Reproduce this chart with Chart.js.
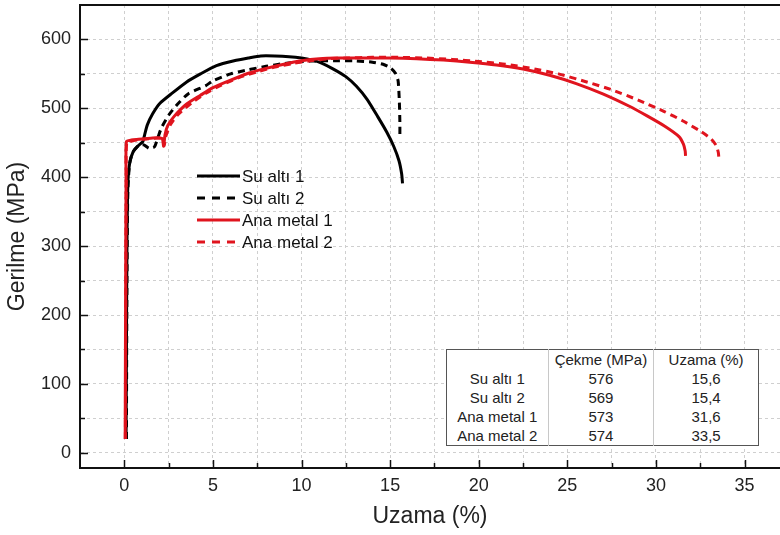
<!DOCTYPE html>
<html>
<head>
<meta charset="utf-8">
<script src="https://cdn.jsdelivr.net/npm/chart.js@4/dist/chart.umd.min.js"></script>
<style>
    body { margin: 0; background: #fff; }
    #wrap { position: relative; width: 780px; height: 535px; }
    #resultTable {
        position: absolute; left: 446px; top: 349px; width: 313px;
        border-collapse: collapse; background: #fff;
        border: 1.5px solid #555;
        font: 15px "Liberation Sans", Arial, sans-serif; color: #222;
    }
    #resultTable td { height: 19px; padding: 0; text-align: center; line-height: 19px; }
    #resultTable td + td { border-left: 1px solid #c8c8c8; }
</style>
</head>
<body>
<div id="wrap">
    <canvas id="tensileChart" width="780" height="535"></canvas>
    <table id="resultTable"></table>
</div>
<script>
// curves: x = Uzama (%), y = Gerilme (MPa)
const suAlti1X = [0.1, 0.12, 0.15, 0.2, 0.3, 0.5, 0.8, 1.05, 1.15, 1.3, 1.6, 2.0, 2.7, 3.5, 4.3, 5.2, 6.2, 7.0, 7.7, 8.5, 9.3, 10.0, 10.6, 11.1, 11.8, 12.5, 13.1, 13.7, 14.3, 14.8, 15.2, 15.5, 15.65, 15.7];
const suAlti1Y = [20, 150, 300, 390, 420, 437, 446, 452, 462, 476, 492, 507, 522, 538, 550, 562, 569, 573, 576, 576, 575, 573, 570, 566, 557, 546, 532, 513, 488, 466, 445, 424, 405, 391];

const suAlti2X = [0.12, 0.15, 0.2, 0.3, 0.5, 0.8, 1.1, 1.4, 1.7, 1.9, 2.1, 2.5, 3.0, 3.6, 4.6, 5.0, 6.0, 7.0, 8.0, 9.0, 10.0, 11.0, 12.0, 13.0, 14.0, 14.6, 15.0, 15.3, 15.45, 15.52, 15.55, 15.55];
const suAlti2Y = [20, 250, 380, 420, 437, 446, 447, 442, 444, 458, 472, 490, 506, 521, 533, 540, 550, 556, 561, 565, 568, 569, 569, 569, 567, 564, 559, 551, 540, 510, 480, 462];

const anaMetal1X = [0.05, 0.07, 0.1, 0.12, 0.4, 0.8, 1.2, 1.6, 2.0, 2.15, 2.22, 2.3, 2.45, 2.8, 3.5, 4.3, 5.0, 6.0, 7.0, 8.0, 9.0, 10.0, 11.0, 12.0, 13.5, 15.0, 16.5, 18.0, 19.5, 21.0, 22.5, 24.0, 25.5, 27.0, 28.5, 29.5, 30.5, 31.3, 31.55, 31.65, 31.67];
const anaMetal1Y = [20, 200, 400, 452, 454, 455, 456, 457, 457, 456, 445, 462, 475, 488, 506, 519, 530, 541, 551, 558, 564, 569, 572, 573, 573, 573, 572, 570, 567, 563, 557, 548, 536, 521, 503, 489, 474, 459, 448, 438, 431];

const anaMetal2X = [0.06, 0.08, 0.11, 0.14, 0.5, 1.0, 1.5, 2.0, 2.15, 2.25, 2.35, 2.6, 3.0, 3.8, 4.6, 5.5, 6.5, 7.5, 8.5, 9.5, 10.5, 11.5, 12.5, 14.0, 15.5, 17.0, 18.5, 20.0, 21.5, 23.0, 24.5, 26.0, 27.5, 29.0, 30.5, 31.5, 32.5, 33.1, 33.4, 33.52, 33.55];
const anaMetal2Y = [20, 200, 400, 450, 453, 455, 456, 457, 455, 446, 460, 476, 490, 508, 522, 534, 545, 553, 560, 565, 569, 572, 573, 574, 574, 573, 571, 568, 564, 558, 550, 539, 527, 512, 495, 482, 467, 456, 446, 436, 428];

const seriesNames = ["Su altı 1", "Su altı 2", "Ana metal 1", "Ana metal 2"];
const xTicks = [0, 2.5, 5, 7.5, 10, 12.5, 15, 17.5, 20, 22.5, 25, 27.5, 30, 32.5, 35];
const yTicks = [0, 50, 100, 150, 200, 250, 300, 350, 400, 450, 500, 550, 600];

// table in the corner
const tableHeader = ["", "Çekme (MPa)", "Uzama (%)"];
const cekmeValues = [576, 569, 573, 574];
const uzamaValues = ["15,6", "15,4", "31,6", "33,5"];

const FONT = '"Liberation Sans", Arial, sans-serif';
const RED = "#e0141e";
Chart.defaults.font.family = FONT;
Chart.defaults.color = "#222";

function toPoints(xs, ys) {
    return xs.map((x, i) => ({x: x, y: ys[i]}));
}

function buildTable() {
    const table = document.getElementById("resultTable");
    const head = document.createElement("tr");
    tableHeader.forEach(t => {
        const td = document.createElement("td");
        td.textContent = t;
        head.appendChild(td);
    });
    table.appendChild(head);
    seriesNames.forEach((name, i) => {
        const tr = document.createElement("tr");
        [name, cekmeValues[i], uzamaValues[i]].forEach(v => {
            const td = document.createElement("td");
            td.textContent = v;
            tr.appendChild(td);
        });
        table.appendChild(tr);
    });
    const widths = [102, 106, 105];
    head.childNodes.forEach((td, i) => td.style.width = widths[i] + "px");
}
buildTable();

function noEdgePadding(s) {
    s.paddingTop = 0;
    s.paddingBottom = 0;
    s.paddingLeft = 0;
    s.paddingRight = 0;
}

// inward tick marks, top frame line and the legend inside the plot
const framePlugin = {
    id: "frame",
    afterDraw(chart) {
        const ctx = chart.ctx;
        const area = chart.chartArea;
        const xs = chart.scales.x;
        const ys = chart.scales.y;
        ctx.save();
        ctx.strokeStyle = "#111";
        ctx.lineWidth = 1.5;
        yTicks.forEach(v => {
            const len = v % 100 === 0 ? 8 : 5;
            const py = Math.round(ys.getPixelForValue(v)) + 0.5;
            ctx.beginPath();
            ctx.moveTo(area.left, py);
            ctx.lineTo(area.left + len, py);
            ctx.stroke();
        });
        xTicks.forEach(v => {
            const len = v % 5 === 0 ? 8 : 5;
            const px = Math.round(xs.getPixelForValue(v)) + 0.5;
            ctx.beginPath();
            ctx.moveTo(px, area.bottom);
            ctx.lineTo(px, area.bottom - len);
            ctx.stroke();
        });
        ctx.lineWidth = 2;
        ctx.beginPath();
        ctx.moveTo(area.left, area.top);
        ctx.lineTo(area.right, area.top);
        ctx.stroke();

        // legend
        const rowY = [176, 198, 220, 242];
        ctx.font = "17px " + FONT;
        ctx.textBaseline = "middle";
        ctx.fillStyle = "#111";
        chart.data.datasets.forEach((ds, i) => {
            ctx.strokeStyle = ds.borderColor;
            ctx.lineWidth = 3;
            ctx.setLineDash(ds.borderDash.length ? [8, 7] : []);
            ctx.beginPath();
            ctx.moveTo(197, rowY[i]);
            ctx.lineTo(240, rowY[i]);
            ctx.stroke();
            ctx.setLineDash([]);
            ctx.fillText(ds.label, 242, rowY[i] + 1);
        });
        ctx.restore();
    }
};

const ctx = document.getElementById("tensileChart").getContext("2d");
const tensileChart = new Chart(ctx, {
    type: "scatter",
    data: {
        datasets: [
            {label: seriesNames[0], data: toPoints(suAlti1X, suAlti1Y), borderColor: "#000", borderDash: [], order: 1},
            {label: seriesNames[1], data: toPoints(suAlti2X, suAlti2Y), borderColor: "#000", borderDash: [7, 5], order: 1},
            {label: seriesNames[2], data: toPoints(anaMetal1X, anaMetal1Y), borderColor: RED, borderDash: [], order: 0},
            {label: seriesNames[3], data: toPoints(anaMetal2X, anaMetal2Y), borderColor: RED, borderDash: [7, 5], order: 0},
        ].map(ds => Object.assign(ds, {
            showLine: true,
            borderWidth: 3,
            pointRadius: 0,
            tension: 0.2,
            fill: false,
        }))
    },
    options: {
        responsive: false,
        animation: false,
        layout: {padding: {top: 5, right: 0, left: 0, bottom: 0}},
        plugins: {legend: {display: false}, tooltip: {enabled: false}},
        scales: {
            x: {
                type: "linear",
                min: -2.5,
                max: 37,
                afterBuildTicks: s => { s.ticks = xTicks.map(v => ({value: v})); },
                afterFit: s => { s.height = 67; noEdgePadding(s); },
                ticks: {
                    font: {size: 18},
                    padding: 7,
                    maxRotation: 0,
                    autoSkip: false,
                    callback: v => v % 5 === 0 ? v : ""
                },
                grid: {color: "#cfcfcf", lineWidth: 1, drawTicks: false},
                border: {color: "#111", width: 2, dash: [3, 3]},
                title: {display: true, text: "Uzama (%)", font: {size: 23}, color: "#222", padding: {top: 0, bottom: 5}}
            },
            y: {
                type: "linear",
                min: -22,
                max: 650,
                afterBuildTicks: s => { s.ticks = yTicks.map(v => ({value: v})); },
                afterFit: s => { s.width = 80; noEdgePadding(s); },
                ticks: {
                    font: {size: 18},
                    padding: 9,
                    autoSkip: false,
                    callback: v => v % 100 === 0 ? v : ""
                },
                grid: {color: "#cfcfcf", lineWidth: 1, drawTicks: false},
                border: {color: "#111", width: 2, dash: [3, 3]},
                title: {display: true, text: "Gerilme (MPa)", font: {size: 23}, color: "#222", padding: {top: 4, bottom: 0}}
            }
        }
    },
    plugins: [framePlugin]
});
</script>
</body>
</html>
